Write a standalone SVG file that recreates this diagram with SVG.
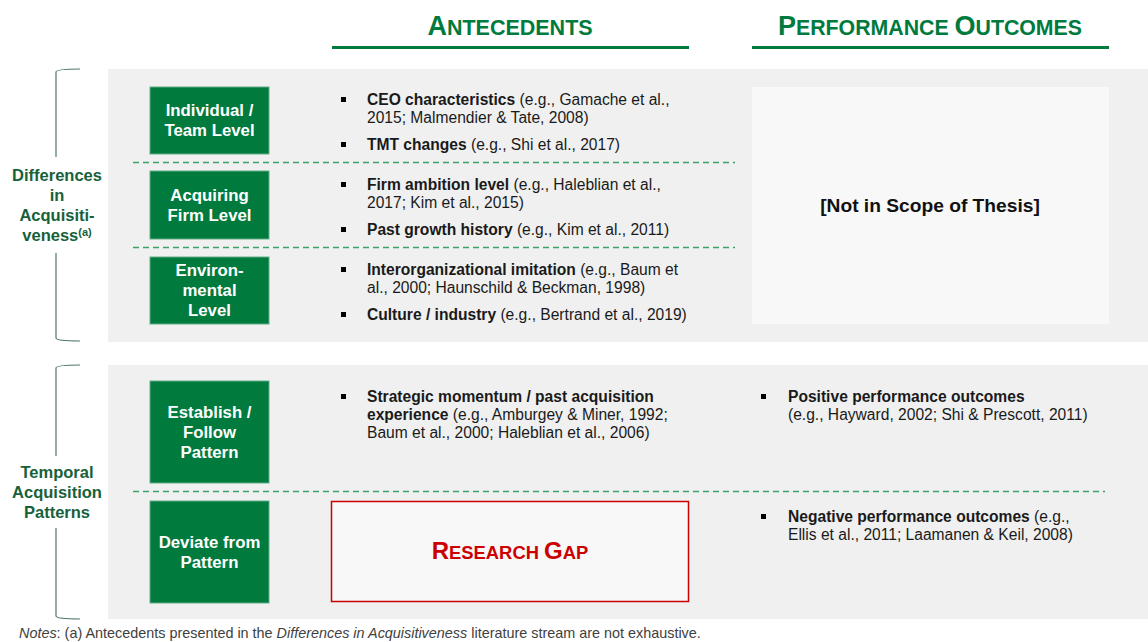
<svg xmlns="http://www.w3.org/2000/svg" width="1148" height="642" viewBox="0 0 1148 642">
<defs>
<style>
text{font-family:"Liberation Sans",Arial,sans-serif}
.panel{fill:#f0f0f0}
.box{fill:#007a3d;stroke:#5fae85;stroke-width:1}
.bt{fill:#fff;font-weight:bold;font-size:16.8px;text-anchor:middle}
.lbl{fill:#17613a;font-weight:bold;font-size:16.5px;text-anchor:middle}
.hd{fill:#007a3d;font-weight:bold;text-anchor:middle}
.hl{stroke:#007a3d;stroke-width:3}
.dash{stroke:#3aa36a;stroke-width:1.5;stroke-dasharray:6 4;fill:none}
.brace{stroke:#4f7a64;stroke-width:1.2;fill:none}
.tx{fill:#1a1a1a;font-size:15.6px}
.b{font-weight:bold}
.bul{fill:#000}
</style>
</defs>
<rect width="1148" height="642" fill="#fff"/>
<g id="headers">
<text class="hd" x="510" y="35"><tspan font-size="27">A</tspan><tspan font-size="21.5">NTECEDENTS</tspan></text>
<line class="hl" x1="332" y1="47.5" x2="689" y2="47.5"/>
<text class="hd" x="930" y="35"><tspan font-size="27">P</tspan><tspan font-size="21.3">ERFORMANCE </tspan><tspan font-size="27">O</tspan><tspan font-size="21.3">UTCOMES</tspan></text>
<line class="hl" x1="752" y1="47.5" x2="1109" y2="47.5"/>
</g>
<rect class="panel" x="108" y="69" width="1040" height="273"/>
<rect class="panel" x="108" y="365" width="1040" height="254"/>
<g id="brace-differences">
<path class="brace" d="M80,69 Q56,69 56,72 L56,157 M56,253 L56,338 Q56,341 80,341"/>
<text class="lbl" x="57" y="181">Differences</text>
<text class="lbl" x="57" y="201">in</text>
<text class="lbl" x="57" y="221">Acquisiti-</text>
<text class="lbl" x="57" y="241">veness<tspan font-size="11" dy="-5">(a)</tspan></text>
</g>
<g id="brace-temporal">
<path class="brace" d="M80,365 Q56,365 56,368 L56,456 M56,528 L56,616 Q56,619 80,619"/>
<text class="lbl" x="57" y="478">Temporal</text>
<text class="lbl" x="57" y="498">Acquisition</text>
<text class="lbl" x="57" y="518">Patterns</text>
</g>
<g id="connectors">
<line class="dash" x1="133" y1="162.5" x2="735" y2="162.5"/>
<line class="dash" x1="133" y1="247.5" x2="735" y2="247.5"/>
<line class="dash" x1="133" y1="491.5" x2="1105" y2="491.5"/>
</g>
<g id="node-individual">
<rect class="box" x="150" y="87" width="119" height="67"/>
<text class="bt" x="209.5" y="116">Individual /</text>
<text class="bt" x="209.5" y="136">Team Level</text>
</g>
<g id="node-acquiring">
<rect class="box" x="150" y="171" width="119" height="68"/>
<text class="bt" x="209.5" y="201">Acquiring</text>
<text class="bt" x="209.5" y="221">Firm Level</text>
</g>
<g id="node-environmental">
<rect class="box" x="150" y="257" width="119" height="67"/>
<text class="bt" x="209.5" y="276">Environ-</text>
<text class="bt" x="209.5" y="296">mental</text>
<text class="bt" x="209.5" y="316">Level</text>
</g>
<g id="node-establish">
<rect class="box" x="150" y="381" width="119" height="102"/>
<text class="bt" x="209.5" y="418">Establish /</text>
<text class="bt" x="209.5" y="438">Follow</text>
<text class="bt" x="209.5" y="458">Pattern</text>
</g>
<g id="node-deviate">
<rect class="box" x="150" y="501" width="119" height="102"/>
<text class="bt" x="209.5" y="548">Deviate from</text>
<text class="bt" x="209.5" y="568">Pattern</text>
</g>
<g id="ante-individual">
<rect class="bul" x="341" y="97" width="5" height="5"/>
<text class="tx" x="367" y="105"><tspan class="b">CEO characteristics</tspan> (e.g., Gamache et al.,</text>
<text class="tx" x="367" y="123">2015; Malmendier &amp; Tate, 2008)</text>
<rect class="bul" x="341" y="142" width="5" height="5"/>
<text class="tx" x="367" y="150"><tspan class="b">TMT changes</tspan> (e.g., Shi et al., 2017)</text>
</g>
<g id="ante-acquiring">
<rect class="bul" x="341" y="182" width="5" height="5"/>
<text class="tx" x="367" y="190"><tspan class="b">Firm ambition level</tspan> (e.g., Haleblian et al.,</text>
<text class="tx" x="367" y="208">2017; Kim et al., 2015)</text>
<rect class="bul" x="341" y="227" width="5" height="5"/>
<text class="tx" x="367" y="235"><tspan class="b">Past growth history</tspan> (e.g., Kim et al., 2011)</text>
</g>
<g id="ante-environmental">
<rect class="bul" x="341" y="267" width="5" height="5"/>
<text class="tx" x="367" y="275"><tspan class="b">Interorganizational imitation</tspan> (e.g., Baum et</text>
<text class="tx" x="367" y="293">al., 2000; Haunschild &amp; Beckman, 1998)</text>
<rect class="bul" x="341" y="312" width="5" height="5"/>
<text class="tx" x="367" y="320"><tspan class="b">Culture / industry</tspan> (e.g., Bertrand et al., 2019)</text>
</g>
<g id="not-in-scope">
<rect x="752" y="87" width="357" height="237" fill="#f8f8f8"/>
<text x="930" y="212" font-size="19.2" font-weight="bold" fill="#111" text-anchor="middle">[Not in Scope of Thesis]</text>
</g>
<g id="ante-establish">
<rect class="bul" x="341" y="394" width="5" height="5"/>
<text class="tx" x="367" y="402"><tspan class="b">Strategic momentum / past acquisition</tspan></text>
<text class="tx" x="367" y="420"><tspan class="b">experience</tspan> (e.g., Amburgey &amp; Miner, 1992;</text>
<text class="tx" x="367" y="438">Baum et al., 2000; Haleblian et al., 2006)</text>
</g>
<g id="research-gap">
<rect x="331.5" y="501.5" width="357" height="100" fill="#f8f8f8" stroke="#cc0000" stroke-width="1.5"/>
<text x="510" y="559" fill="#cc0000" font-weight="bold" text-anchor="middle"><tspan font-size="24">R</tspan><tspan font-size="18.4">ESEARCH </tspan><tspan font-size="24">G</tspan><tspan font-size="18.4">AP</tspan></text>
</g>
<g id="outcome-positive">
<rect class="bul" x="761" y="394" width="5" height="5"/>
<text class="tx" x="788" y="402"><tspan class="b">Positive performance outcomes</tspan></text>
<text class="tx" x="788" y="420">(e.g., Hayward, 2002; Shi &amp; Prescott, 2011)</text>
</g>
<g id="outcome-negative">
<rect class="bul" x="761" y="514" width="5" height="5"/>
<text class="tx" x="788" y="522"><tspan class="b">Negative performance outcomes</tspan> (e.g.,</text>
<text class="tx" x="788" y="540">Ellis et al., 2011; Laamanen &amp; Keil, 2008)</text>
</g>
<text x="19" y="638" font-size="14.4" fill="#404040"><tspan font-style="italic">Notes</tspan>: (a) Antecedents presented in the <tspan font-style="italic">Differences in Acquisitiveness</tspan> literature stream are not exhaustive.</text>
</svg>
